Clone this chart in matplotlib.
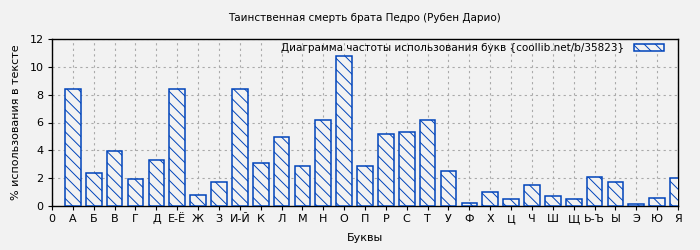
import matplotlib
matplotlib.use("Agg")
import matplotlib.pyplot as plt

# letter frequencies, % of text
letters = ['А', 'Б', 'В', 'Г', 'Д', 'Е-Ё', 'Ж', 'З', 'И-Й', 'К', 'Л', 'М', 'Н', 'О', 'П',
           'Р', 'С', 'Т', 'У', 'Ф', 'Х', 'Ц', 'Ч', 'Ш', 'Щ', 'Ь-Ъ', 'Ы', 'Э', 'Ю', 'Я']
values = [8.38, 2.35, 3.97, 1.94, 3.3, 8.43, 0.77, 1.72, 8.43, 3.06, 4.93, 2.85, 6.2, 10.79, 2.87,
          5.15, 5.32, 6.2, 2.49, 0.19, 1.0, 0.5, 1.5, 0.72, 0.5, 2.08, 1.72, 0.14, 0.57, 2.0]
tick_labels = ['0'] + letters
yticks = [0, 2, 4, 6, 8, 10, 12]

title = 'Таинственная смерть брата Педро (Рубен Дарио)'
legend_label = 'Диаграмма частоты использования букв {coollib.net/b/35823}'

bg = '#f2f2f2'
blue = '#0044bb'

plt.rcParams['font.family'] = 'DejaVu Sans'
plt.rcParams['hatch.color'] = blue
plt.rcParams['hatch.linewidth'] = 0.7

fig = plt.figure(figsize=(7, 2.5), dpi=100)
fig.patch.set_facecolor(bg)
ax = fig.add_axes([0.0743, 0.176, 0.8943, 0.668])
ax.set_facecolor(bg)

positions = list(range(1, len(letters) + 1))
ax.bar(positions, values, width=0.75, facecolor=bg, edgecolor=blue,
       linewidth=1.1, hatch='\\\\\\', label=legend_label, zorder=3)

ax.set_xlim(0, len(letters))
ax.set_ylim(0, 12)
ax.set_xticks(range(0, len(letters) + 1))
ax.set_xticklabels(tick_labels, fontsize=8)
ax.set_yticks(yticks)
ax.set_yticklabels([str(t) for t in yticks], fontsize=8)
ax.tick_params(axis='both', length=3, width=0.8, color='black', pad=3)

ax.grid(True, color='#aaaaaa', linestyle=(0, (2, 3)), linewidth=0.8, zorder=0)
for s in ax.spines.values():
    s.set_linewidth(1.0)
    s.set_color('black')

ax.set_xlabel('Буквы', fontsize=8, labelpad=6)
ax.set_ylabel('% использования в тексте', fontsize=8, labelpad=6)
fig.text(0.52, 0.928, title, ha='center', va='center', fontsize=7.5)

leg = ax.legend(loc='upper right', bbox_to_anchor=(0.983, 0.995), frameon=False,
                fontsize=7.5, markerfirst=False, handlelength=2.9, handleheight=0.7,
                borderaxespad=0.2, borderpad=0.1, handletextpad=1.0)

fig.savefig('out.png', dpi=100, facecolor=bg)
